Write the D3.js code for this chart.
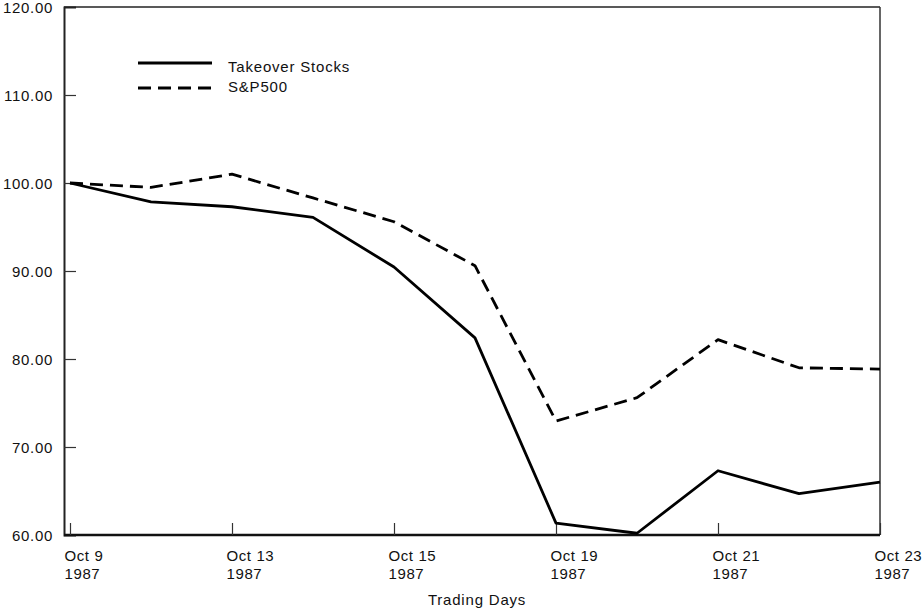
<!DOCTYPE html>
<html>
<head>
<meta charset="utf-8">
<script src="https://cdn.jsdelivr.net/npm/d3@7"></script>
<style>
  html, body { margin: 0; padding: 0; background: #fff; }
  svg { display: block; }
  text { font-family: "Liberation Sans", Arial, Helvetica, sans-serif; fill: #111; }
</style>
</head>
<body>
<svg id="chart" width="923" height="611"></svg>
<script>
// ---- data ----
const days = ["Oct 9", "Oct 12", "Oct 13", "Oct 14", "Oct 15", "Oct 16", "Oct 19", "Oct 20", "Oct 21", "Oct 22", "Oct 23"];
const takeoverStocks = [100.0, 97.85, 97.3, 96.1, 90.45, 82.4, 61.35, 60.2, 67.3, 64.7, 66.0];
const sp500 = [100.0, 99.5, 101.0, 98.3, 95.6, 90.6, 72.95, 75.6, 82.2, 79.0, 78.85];
const labeledDays = ["Oct 9", "Oct 13", "Oct 15", "Oct 19", "Oct 21", "Oct 23"];
const yearLabel = "1987";
const yTicks = [60, 70, 80, 90, 100, 110, 120];
const seriesNames = ["Takeover Stocks", "S&P500"];
const xTitle = "Trading Days";

// ---- layout ----
const svg = d3.select("#chart");
const frame = { left: 64, right: 880, top: 7, bottom: 535 };

const x = d3.scalePoint().domain(days).range([70, 880]);
const y = d3.scaleLinear().domain([60, 120]).range([535, 7]);

// frame
svg.append("line").attr("x1", frame.left).attr("x2", frame.right).attr("y1", frame.top).attr("y2", frame.top)
  .attr("stroke", "#222").attr("stroke-width", 1.5);
svg.append("line").attr("x1", frame.right).attr("x2", frame.right).attr("y1", frame.top).attr("y2", frame.bottom)
  .attr("stroke", "#333").attr("stroke-width", 1.5);

// y axis
const yAxis = d3.axisLeft(y).tickValues(yTicks).tickSize(-12).tickPadding(11).tickFormat(d3.format(".2f"));
const gy = svg.append("g").attr("transform", `translate(${frame.left},0)`).call(yAxis);
gy.select(".domain").attr("stroke", "#222").attr("stroke-width", 2);
gy.selectAll(".tick line").attr("stroke", "#333").attr("stroke-width", 1.2)
  .filter(d => d === 60 || d === 120).remove();
gy.selectAll(".tick text").style("font-size", "15px").style("letter-spacing", "0.7px")
  .attr("fill", "#111").attr("dy", "0.36em");

// x axis
const xAxis = d3.axisBottom(x).tickValues(labeledDays).tickSize(-12).tickFormat("");
const gx = svg.append("g").attr("transform", `translate(0,${frame.bottom})`).call(xAxis);
gx.select(".domain").attr("d", `M${frame.left},0H${frame.right}`).attr("stroke", "#111").attr("stroke-width", 2.5);
gx.selectAll(".tick line").attr("stroke", "#333").attr("stroke-width", 1.2);
gx.selectAll(".tick").each(function(d) {
  const t = d3.select(this).append("text")
    .attr("text-anchor", "start")
    .style("font-size", "15px").style("letter-spacing", "0.6px").attr("fill", "#111");
  t.append("tspan").attr("x", -6).attr("y", 26).text(d);
  t.append("tspan").attr("x", -6).attr("y", 44).text(yearLabel);
});

// x title
svg.append("text").attr("x", 477).attr("y", 605).attr("text-anchor", "middle")
  .style("font-size", "15px").style("letter-spacing", "0.8px").text(xTitle);

// lines
const line = d3.line().x((d, i) => x(days[i])).y(d => y(d));
svg.append("path").datum(takeoverStocks).attr("d", line)
  .attr("fill", "none").attr("stroke", "#000").attr("stroke-width", 2.8).attr("stroke-linejoin", "round");
svg.append("path").datum(sp500).attr("d", line)
  .attr("fill", "none").attr("stroke", "#000").attr("stroke-width", 2.8)
  .attr("stroke-dasharray", "13,7").attr("stroke-linejoin", "round");

// legend
const legend = svg.append("g");
const legY = [63, 88];
seriesNames.forEach((name, i) => {
  legend.append("line").attr("x1", 138).attr("x2", 212).attr("y1", legY[i]).attr("y2", legY[i])
    .attr("stroke", "#000").attr("stroke-width", 2.8)
    .attr("stroke-dasharray", i === 1 ? "13,7" : null);
  legend.append("text").attr("x", 228).attr("y", legY[i] + (i === 0 ? 9 : 4))
    .style("font-size", "15px").style("letter-spacing", "0.8px").text(name);
});
</script>
</body>
</html>
